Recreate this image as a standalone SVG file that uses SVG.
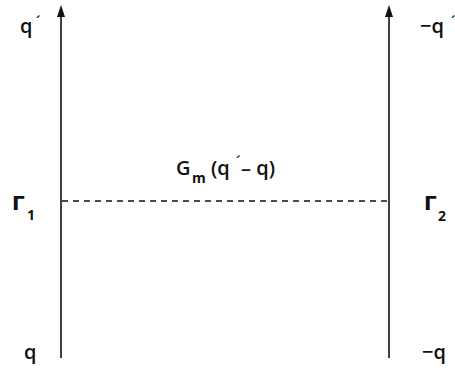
<svg xmlns="http://www.w3.org/2000/svg" width="455" height="371" viewBox="0 0 455 371">
<defs>
<style>
.t{font-family:"Open Sans","Liberation Sans",sans-serif;font-size:20px;font-weight:600;fill:#111}
.s{font-size:14px;font-weight:700}
.p{font-size:14px}
.g{font-family:"DejaVu Sans",sans-serif;font-size:20px;font-weight:bold}
.ax{stroke:#111;stroke-width:1.6;fill:none}
.dash{stroke:#111;stroke-width:1.3;stroke-dasharray:6,5;fill:none}
</style>
</defs>
<rect width="455" height="371" fill="#fff"/>
<g id="connectors">
<line class="ax" x1="61" y1="358" x2="61" y2="14"/>
<polygon points="61,5 57,17 65,17" fill="#111"/>
<line class="ax" x1="389" y1="358" x2="389" y2="14"/>
<polygon points="389,5 385,17 393,17" fill="#111"/>
<line class="dash" x1="62" y1="201" x2="389" y2="201"/>
</g>
<g id="left-axis">
<text class="t" x="20" y="33">q</text>
<text class="t p" x="36" y="27">´</text>
<text class="t g" x="12" y="210">Γ</text>
<text class="t s" x="27" y="220">1</text>
<text class="t" x="24" y="359">q</text>
</g>
<g id="right-axis">
<text class="t" x="420" y="33">−q</text>
<text class="t p" x="451" y="27">´</text>
<text class="t g" x="424" y="210">Γ</text>
<text class="t s" x="438" y="221">2</text>
<text class="t" x="422" y="359">−q</text>
</g>
<g id="coupling">
<text class="t" x="176" y="175">G</text>
<text class="t s" x="192" y="183">m</text>
<text class="t" x="211" y="175">(q</text>
<text class="t p" x="236" y="167">´</text>
<text class="t" x="241" y="175">– q)</text>
</g>
</svg>
